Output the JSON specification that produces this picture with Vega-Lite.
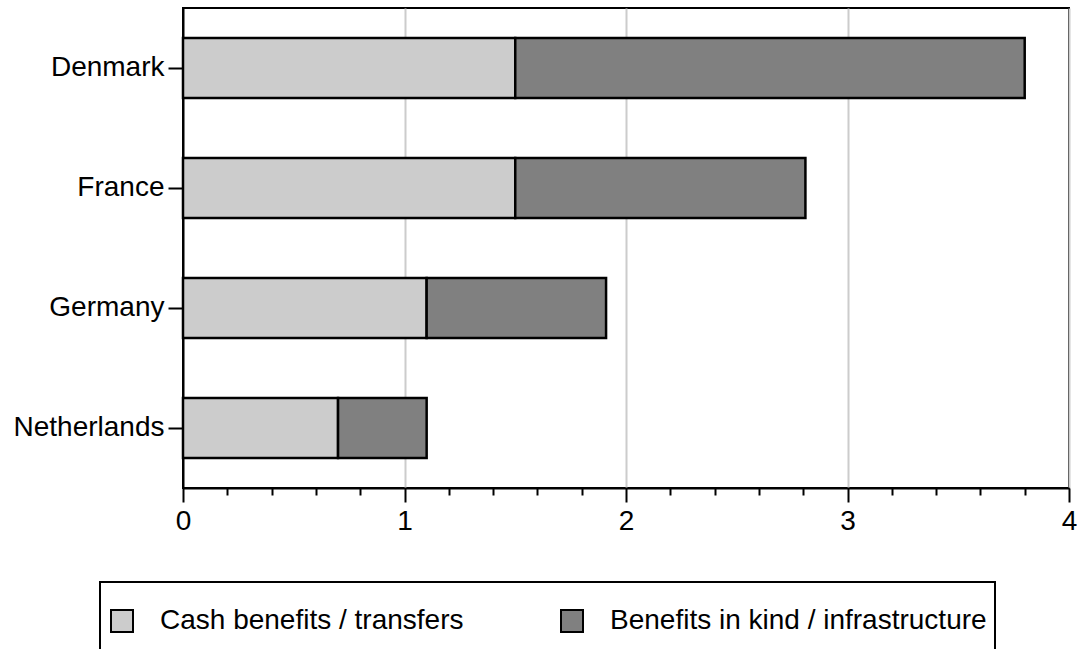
{
  "$schema": "https://vega.github.io/schema/vega-lite/v6.json",
  "width": 886,
  "height": 480,
  "autosize": {"type": "none"},
  "padding": {"left": 183, "top": 8, "right": 8, "bottom": 161},
  "background": "white",
  "config": {
    "font": "Liberation Sans",
    "view": {"stroke": "black", "strokeWidth": 2},
    "axis": {"domainColor": "black", "domainWidth": 2, "tickColor": "black", "tickWidth": 2, "labelColor": "black", "labelFontSize": 28, "labelFont": "Liberation Sans"},
    "legend": {"strokeColor": "black", "strokeWidth": 2, "padding": 8, "labelFontSize": 28, "labelColor": "black", "labelFont": "Liberation Sans", "labelLimit": 700}
  },
  "data": {
    "values": [
      {"country": "Denmark", "type": "Cash benefits / transfers", "k": 1, "value": 1.5},
      {"country": "Denmark", "type": "Benefits in kind / infrastructure", "k": 2, "value": 2.3},
      {"country": "France", "type": "Cash benefits / transfers", "k": 1, "value": 1.5},
      {"country": "France", "type": "Benefits in kind / infrastructure", "k": 2, "value": 1.31},
      {"country": "Germany", "type": "Cash benefits / transfers", "k": 1, "value": 1.1},
      {"country": "Germany", "type": "Benefits in kind / infrastructure", "k": 2, "value": 0.81},
      {"country": "Netherlands", "type": "Cash benefits / transfers", "k": 1, "value": 0.7},
      {"country": "Netherlands", "type": "Benefits in kind / infrastructure", "k": 2, "value": 0.4}
    ]
  },
  "mark": {"type": "bar", "stroke": "black", "strokeWidth": 2.5, "opacity": 1},
  "encoding": {
    "y": {
      "field": "country", "type": "nominal", "sort": null,
      "scale": {"paddingInner": 0.5, "paddingOuter": 0.25},
      "axis": {"title": null, "tickSize": 15, "labelPadding": 4, "grid": false}
    },
    "x": {
      "field": "value", "type": "quantitative", "stack": "zero",
      "scale": {"domain": [0, 4], "nice": false},
      "axis": {
        "title": null,
        "values": [0, 0.2, 0.4, 0.6, 0.8, 1, 1.2, 1.4, 1.6, 1.8, 2, 2.2, 2.4, 2.6, 2.8, 3, 3.2, 3.4, 3.6, 3.8, 4],
        "labelExpr": "datum.value % 1 === 0 ? format(datum.value, 'd') : ''",
        "labelOverlap": false,
        "labelFlush": false,
        "labelBound": false,
        "labelPadding": 5,
        "tickSize": {"condition": {"test": "datum.value % 1 === 0", "value": 14}, "value": 7},
        "grid": true,
        "gridColor": "#cccccc",
        "gridWidth": 2,
        "gridOpacity": {"condition": {"test": "datum.value % 1 === 0 && datum.value > 0", "value": 1}, "value": 0}
      }
    },
    "color": {
      "field": "type", "type": "nominal",
      "scale": {"domain": ["Cash benefits / transfers", "Benefits in kind / infrastructure"], "range": ["#cccccc", "#808080"]},
      "legend": {
        "title": null,
        "orient": "none",
        "legendX": -83,
        "legendY": 574,
        "direction": "horizontal",
        "columns": 2,
        "columnPadding": 94,
        "symbolType": "square",
        "symbolSize": 484,
        "symbolStrokeColor": "black",
        "symbolStrokeWidth": 2,
        "symbolOpacity": 1,
        "labelOffset": 24,
        "clipHeight": 62
      }
    },
    "order": {"field": "k", "type": "quantitative"}
  }
}
